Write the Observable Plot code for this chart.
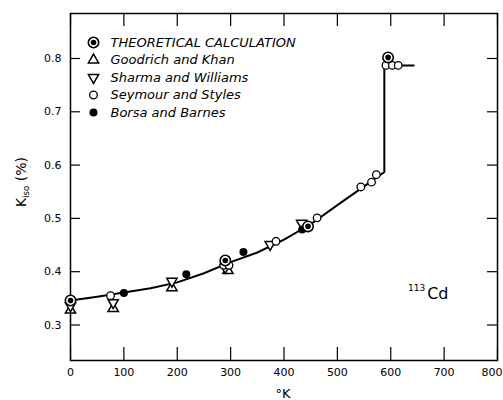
<!DOCTYPE html>
<html><head><meta charset="utf-8">
<script src="https://cdn.jsdelivr.net/npm/d3@7"></script>
<script src="https://cdn.jsdelivr.net/npm/@observablehq/plot@0.6"></script>
<style>body{margin:0;background:#fff} svg{overflow:visible}</style>
</head><body><div id="chart"></div>
<script>
// ---- data ----
const xTicks = [0, 100, 200, 300, 400, 500, 600, 700, 800];
const yTicks = [0.3, 0.4, 0.5, 0.6, 0.7, 0.8];

// smooth curve through measurements (T in K, Kiso in %)
const curveT = [0, 50, 100, 150, 200, 250, 300, 350, 400, 450, 500, 550, 588, 588, 643];
const curveK = [0.346, 0.353, 0.361, 0.369, 0.380, 0.397, 0.418, 0.436, 0.460, 0.489, 0.525, 0.560, 0.587, 0.787, 0.787];

const theoT = [0, 290, 445, 595];
const theoK = [0.346, 0.421, 0.485, 0.802];

const goodrichT = [0, 80, 190, 295];
const goodrichK = [0.328, 0.331, 0.370, 0.402];

const sharmaT = [0, 80, 190, 290, 374, 433];
const sharmaK = [0.336, 0.342, 0.382, 0.408, 0.451, 0.491];

const seymourT = [75, 287, 297, 385, 462, 544, 564, 573, 591, 603, 614];
const seymourK = [0.355, 0.412, 0.412, 0.457, 0.501, 0.559, 0.568, 0.582, 0.787, 0.787, 0.787];

const borsaT = [100, 217, 324, 434];
const borsaK = [0.360, 0.395, 0.437, 0.479];

const legendLabels = ["THEORETICAL CALCULATION", "Goodrich and Khan", "Sharma and Williams", "Seymour and Styles", "Borsa and Barnes"];
const legendKinds = ["theo", "up", "down", "open", "filled"];

const xLabel = "°K";
const yLabelMain = "K", yLabelSub = "iso", yLabelTail = " (%)";
const isoSup = "113", isoName = "Cd";

// ---- build ----
const W = 503, H = 400, mL = 70, mR = 6, mT = 13, mB = 40;
const innerW = W - mL - mR, innerH = H - mT - mB;
const pts = (T, K) => T.map((t, i) => ({t, k: K[i]}));
const curve = pts(curveT, curveK);

function symbolMarks(kind, data, extra = {}) {
  const base = {x: "t", y: "k", ...extra};
  if (kind === "theo") return [
    Plot.dot(data, {...base, r: 5.2, fill: "white", stroke: "black", strokeWidth: 1.6}),
    Plot.dot(data, {...base, r: 2.8, fill: "black", stroke: "none"})
  ];
  if (kind === "up") return [Plot.dot(data, {...base, symbol: "triangle", r: 3.8, fill: "white", stroke: "black", strokeWidth: 1.5})];
  if (kind === "down") return [Plot.dot(data, {...base, symbol: "triangle", rotate: 180, r: 3.8, fill: "white", stroke: "black", strokeWidth: 1.5})];
  if (kind === "open") return [Plot.dot(data, {...base, r: 3.8, fill: "white", stroke: "black", strokeWidth: 1.3})];
  return [Plot.dot(data, {...base, r: 4, fill: "black", stroke: "none"})];
}

const legendMarks = legendLabels.flatMap((label, i) => {
  const dy = 29 + i * 17.5;
  const pos = {frameAnchor: "top-left", dx: 23, dy, x: null, y: null};
  return [
    ...symbolMarks(legendKinds[i], [{}], pos),
    Plot.text([label], {text: d => d, frameAnchor: "top-left", dx: 40, dy, textAnchor: "start",
      lineAnchor: "middle", fontSize: 13, fontStyle: "italic", fill: "black"})
  ];
});

const chart = Plot.plot({
  width: W, height: H,
  marginLeft: mL, marginRight: mR, marginTop: mT, marginBottom: mB,
  style: {fontFamily: "DejaVu Sans", fontSize: "11px", color: "black", background: "white"},
  x: {domain: [0, 800], label: null},
  y: {domain: [0.2334, 0.8844], label: null},
  marks: [
    Plot.frame({stroke: "black", strokeWidth: 1.5}),
    Plot.tickX(xTicks, {x: d => d, insetTop: innerH - 13, stroke: "black", strokeWidth: 1.2}),
    Plot.tickX(xTicks, {x: d => d, insetBottom: innerH - 13, stroke: "black", strokeWidth: 1.2}),
    Plot.tickY(yTicks, {y: d => d, insetRight: innerW - 10, stroke: "black", strokeWidth: 1.2}),
    Plot.tickY(yTicks, {y: d => d, insetLeft: innerW - 10, stroke: "black", strokeWidth: 1.2}),
    Plot.axisX(xTicks.slice(0, -1), {tickSize: 0, tickPadding: 8, label: null, fontSize: 11}),
    Plot.axisX(xTicks.slice(-1), {tickSize: 0, tickPadding: 8, label: null, fontSize: 11, textAnchor: "end", dx: 5}),
    Plot.axisY(yTicks, {tickSize: 0, tickPadding: 9, label: null, tickFormat: d3.format(".1f"), fontSize: 11}),
    Plot.line(curve, {x: "t", y: "k", stroke: "black", strokeWidth: 2}),
    ...symbolMarks("up", pts(goodrichT, goodrichK)),
    ...symbolMarks("down", pts(sharmaT, sharmaK)),
    ...symbolMarks("filled", pts(borsaT, borsaK)),
    ...symbolMarks("open", pts(seymourT, seymourK)),
    ...symbolMarks("theo", pts(theoT, theoK)),
    ...legendMarks
  ]
});
document.getElementById("chart").appendChild(chart);

const svg = d3.select(chart);
svg.append("text").attr("x", 283).attr("y", 398).attr("text-anchor", "middle")
  .attr("font-family", "DejaVu Sans").attr("font-size", 13).attr("fill", "black").text(xLabel);

const yl = svg.append("text").attr("transform", "translate(26,182) rotate(-90)")
  .attr("text-anchor", "middle").attr("font-family", "DejaVu Sans").attr("font-size", 14).attr("fill", "black");
yl.append("tspan").text(yLabelMain);
yl.append("tspan").attr("font-size", 8.5).attr("dy", 3).text(yLabelSub);
yl.append("tspan").attr("dy", -3).text(yLabelTail);

const iso = svg.append("text").attr("x", 408).attr("y", 299).attr("text-anchor", "start")
  .attr("font-family", "DejaVu Sans").attr("fill", "black");
iso.append("tspan").attr("font-size", 9).attr("dy", -8).text(isoSup);
iso.append("tspan").attr("font-size", 16).attr("dy", 8).attr("dx", 2).text(isoName);
</script>
</body></html>
